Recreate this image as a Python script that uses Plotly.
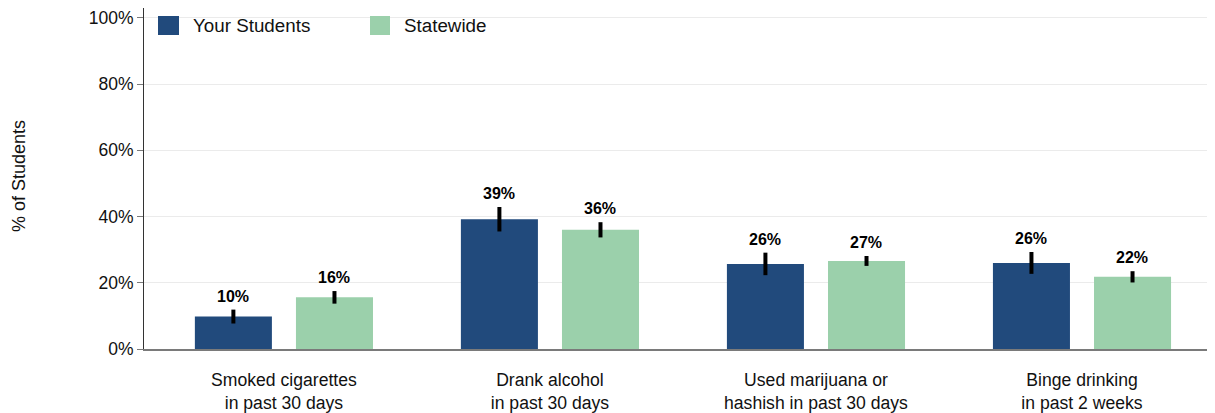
import plotly.graph_objects as go

categories = ["Smoked cigarettes<br>in past 30 days", "Drank alcohol<br>in past 30 days",
              "Used marijuana or<br>hashish in past 30 days", "Binge drinking<br>in past 2 weeks"]
series_names = ["Your Students", "Statewide"]
your_students = [9.8, 39.2, 25.7, 26.0]
your_err = [2.1, 3.7, 3.4, 3.3]
statewide = [15.6, 36.0, 26.6, 21.8]
statewide_err = [1.9, 2.3, 1.5, 1.7]
y_ticks = [0, 20, 40, 60, 80, 100]
y_ticklabels = ["0%", "20%", "40%", "60%", "80%", "100%"]

colors = ["#214a7c", "#9bd0ab"]
FONT = "Liberation Sans, Arial, sans-serif"

# The page body has an 8px margin, so the figure is drawn 8px right/down.
W, H = 1071.0, 341.0
def px(x):
    return (x - 144) / W
def py(y):
    return (349 - y) / H

fig = go.Figure()
xs = list(range(len(categories)))
for name, vals, errs, col in [(series_names[0], your_students, your_err, colors[0]),
                              (series_names[1], statewide, statewide_err, colors[1])]:
    fig.add_trace(go.Bar(
        x=xs, y=vals, name=name, marker=dict(color=col, line=dict(width=0)),
        error_y=dict(type="data", array=errs, visible=True, color="black", thickness=4, width=0),
        showlegend=False, offsetgroup=name,
    ))

# value labels
for i in range(len(categories)):
    for k, (vals, errs) in enumerate([(your_students, your_err), (statewide, statewide_err)]):
        fig.add_annotation(
            x=i, y=vals[i] + errs[i], xref="x", yref="y",
            text=f"<b>{round(vals[i])}%</b>", showarrow=False,
            yanchor="bottom", yshift=3, xshift=(-50.5 if k == 0 else 50.5),
            font=dict(family=FONT, size=16, color="black"),
        )

# custom legend
legend_items = [(158, 179, 191), (370, 390, 402)]
for (x0, x1, tx), name, col in zip(legend_items, series_names, colors):
    fig.add_shape(type="rect", xref="paper", yref="paper", x0=px(x0), x1=px(x1),
                  y0=py(35), y1=py(16), fillcolor=col, line=dict(width=0))
    fig.add_annotation(xref="paper", yref="paper", x=px(tx), y=py(26), text=name,
                       showarrow=False, xanchor="left", yanchor="middle",
                       font=dict(family=FONT, size=18.8, color="#111111"))

# y-axis title
fig.add_annotation(xref="paper", yref="paper", x=px(19), y=py(176), text="% of Students",
                   textangle=-90, showarrow=False, xanchor="center", yanchor="middle",
                   font=dict(family=FONT, size=18, color="#111111"))

fig.update_layout(
    width=1207, height=405,
    margin=dict(l=136, r=0, t=0, b=64),
    plot_bgcolor="white", paper_bgcolor="white",
    barmode="group", bargap=0.24, bargroupgap=0.238,
    font=dict(family=FONT, size=17, color="#111111"),
    xaxis=dict(
        tickmode="array", tickvals=xs, ticktext=categories,
        range=[-0.526, 3.5], showgrid=False, zeroline=False,
        showline=True, linecolor="#7a7a7a", linewidth=2,
        ticks="outside", ticklen=14, tickcolor="rgba(0,0,0,0)",
        tickfont=dict(family=FONT, size=17.6, color="#111111"),
    ),
    yaxis=dict(
        range=[0, 103.0], tickmode="array", tickvals=y_ticks, ticktext=y_ticklabels,
        showgrid=True, gridcolor="#ebebeb", gridwidth=1, zeroline=False,
        showline=True, linecolor="#333333", linewidth=1,
        ticks="outside", ticklen=6, tickcolor="#7a7a7a",
        tickfont=dict(family=FONT, size=17.5, color="#111111"),
    ),
)

fig.write_html("out.html")
